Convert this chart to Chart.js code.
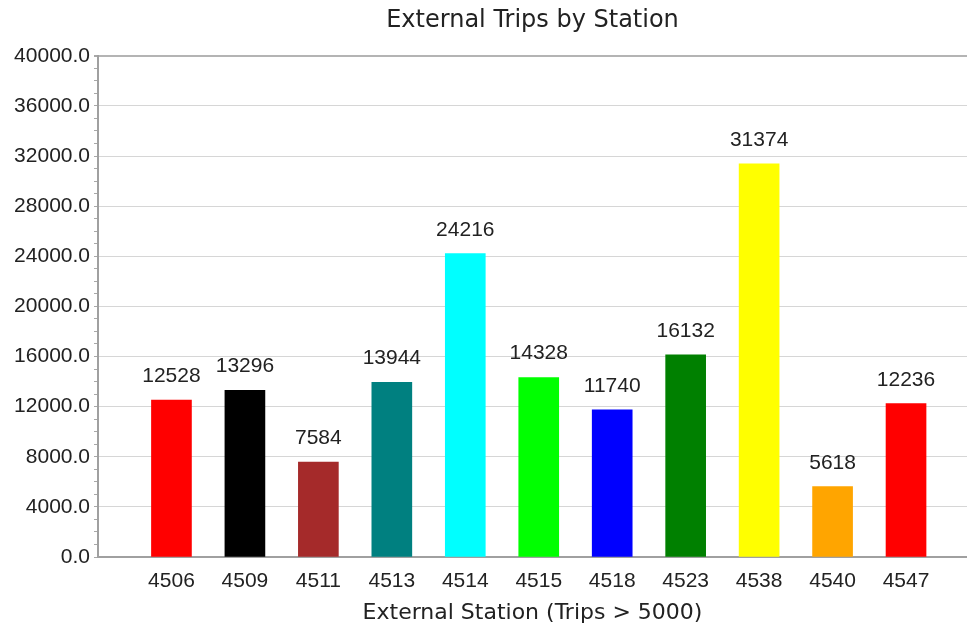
<!DOCTYPE html>
<html>
<head>
<meta charset="utf-8">
<title>External Trips by Station</title>
<script src="https://cdn.jsdelivr.net/npm/chart.js@4"></script>
<style>
  html, body { margin: 0; padding: 0; background: #fff; }
  #wrap { width: 967px; height: 631px; position: relative; }
</style>
</head>
<body>
<div id="wrap"><canvas id="tripsChart"></canvas></div>
<script>
// stations and their external trip counts
const stations = ['4506', '4509', '4511', '4513', '4514', '4515', '4518', '4523', '4538', '4540', '4547'];
const trips = [12528, 13296, 7584, 13944, 24216, 14328, 11740, 16132, 31374, 5618, 12236];
const barColors = ['#ff0000', '#000000', '#a52a2a', '#008080', '#00ffff', '#00ff00',
                   '#0000ff', '#008000', '#ffff00', '#ffa500', '#ff0000'];
const yMax = 40000;
const yMajorStep = 4000;
const yMinorStep = 1000;

const labelFont = { family: "'Liberation Sans', Arial, sans-serif", size: 21 };
const titleFamily = "'DejaVu Sans', Verdana, sans-serif";

// writes each bar's value above it
const valueLabels = {
  id: 'valueLabels',
  afterDatasetsDraw(chart) {
    const ctx = chart.ctx;
    const meta = chart.getDatasetMeta(0);
    ctx.save();
    ctx.font = labelFont.size + 'px ' + labelFont.family;
    ctx.fillStyle = '#222';
    ctx.textAlign = 'center';
    ctx.textBaseline = 'alphabetic';
    meta.data.forEach((bar, i) => {
      ctx.fillText(String(trips[i]), bar.x, bar.y - 18);
    });
    ctx.restore();
  }
};

const ctx = document.getElementById('tripsChart').getContext('2d');
new Chart(ctx, {
  type: 'bar',
  data: {
    datasets: [{
      data: trips.map((v, i) => ({ x: i, y: v })),
      backgroundColor: barColors,
      borderWidth: 0,
      barThickness: 40
    }]
  },
  options: {
    responsive: true,
    maintainAspectRatio: false,
    animation: false,
    layout: { padding: 0 },
    plugins: {
      legend: { display: false },
      tooltip: { enabled: false },
      title: {
        display: true,
        fullSize: false,
        text: 'External Trips by Station',
        color: '#222',
        font: { family: titleFamily, size: 24, weight: 'normal' },
        padding: { top: 6, bottom: 21 }
      }
    },
    scales: {
      x: {
        type: 'linear',
        offset: false,
        min: -1,
        max: 10.83,
        afterBuildTicks: scale => {
          scale.ticks = stations.map((s, i) => ({ value: i }));
        },
        afterFit: scale => { scale.height = 74; },
        ticks: {
          color: '#222',
          font: labelFont,
          padding: 12,
          autoSkip: false,
          maxRotation: 0,
          callback: v => stations[v]
        },
        grid: { drawOnChartArea: false, drawTicks: false },
        border: { color: '#a0a0a0', width: 2 },
        title: {
          display: true,
          text: 'External Station (Trips > 5000)',
          color: '#222',
          font: { family: titleFamily, size: 22 },
          padding: { top: 0, bottom: 5 }
        }
      },
      y: {
        min: 0,
        max: yMax,
        afterFit: scale => { scale.width = 98; },
        ticks: {
          stepSize: yMinorStep,
          autoSkip: false,
          color: '#222',
          font: labelFont,
          padding: 4,
          callback: v => (v % yMajorStep === 0 ? v.toFixed(1) : '')
        },
        grid: {
          color: c => {
            if (c.tick.value === yMax) return '#b4b4b4';
            return c.tick.value % yMajorStep === 0 ? '#d6d6d6' : 'rgba(0,0,0,0)';
          },
          lineWidth: c => (c.tick.value === yMax ? 2 : 1),
          tickColor: '#a8a8a8',
          tickLength: 4
        },
        border: { color: '#a0a0a0', width: 2 }
      }
    }
  },
  plugins: [valueLabels]
});
</script>
</body>
</html>
